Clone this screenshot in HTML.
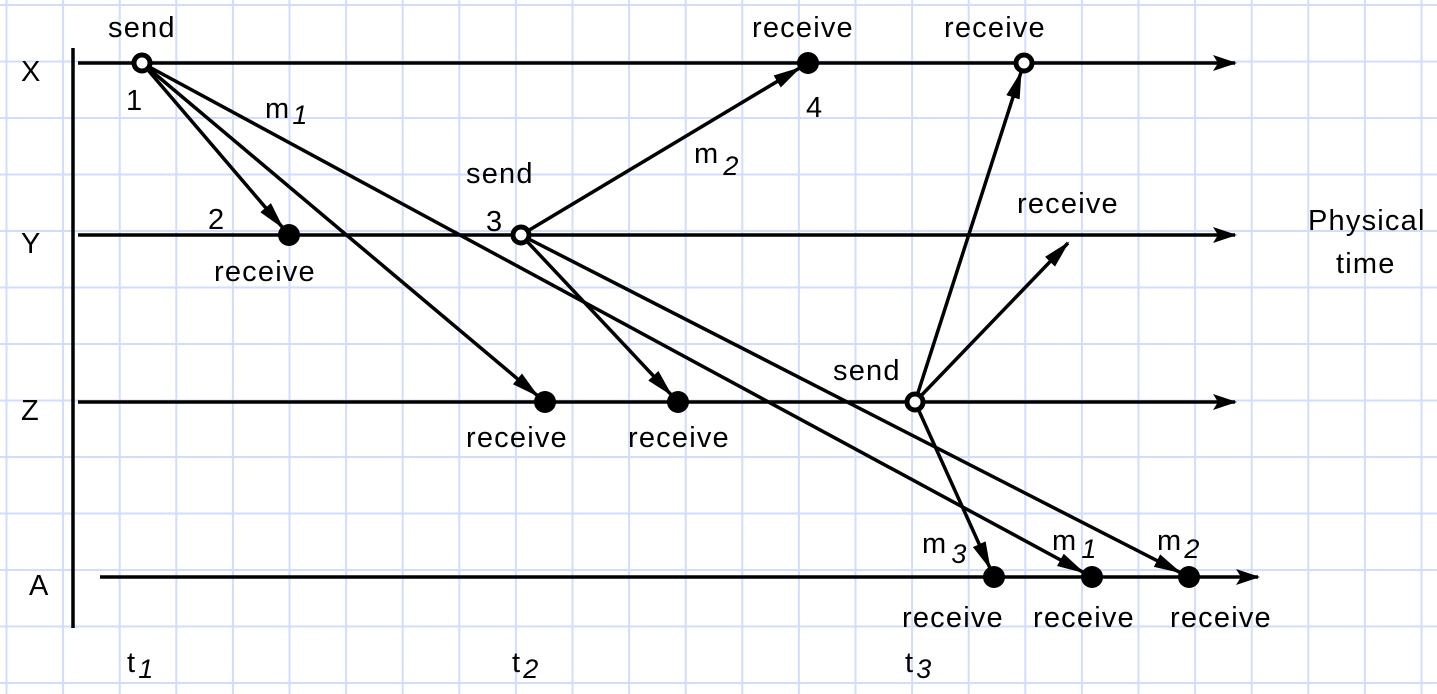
<!DOCTYPE html>
<html><head><meta charset="utf-8"><style>
html,body{margin:0;padding:0;background:#fff;}
svg{display:block;}
text{font-family:"Liberation Sans",sans-serif;font-size:29px;letter-spacing:1.2px;fill:#000;}
.sub{font-style:italic;font-size:27px;}
</style></head><body>
<svg id="chart" width="1437" height="694" viewBox="0 0 1437 694" xmlns="http://www.w3.org/2000/svg">
<defs>
<marker id="ah2" markerWidth="28" markerHeight="14" refX="26" refY="7" orient="auto" markerUnits="userSpaceOnUse" viewBox="0 0 28 14"><path d="M0,0 L28,7 L0,14 z" fill="#000"/></marker>
<marker id="ah3" markerWidth="24" markerHeight="16" refX="22" refY="8" orient="auto" markerUnits="userSpaceOnUse" viewBox="0 0 24 16"><path d="M0,0 L24,8 L0,16 L5,8 z" fill="#000"/></marker></defs>
<g id="grid"></g>
<g id="diagram"></g>
</svg>
<script>
const processes=["X","Y","Z","A"];
const processY=[63,235,402,577];
const timeLabels=["1","2","3"];
const timeX=[140,525,918];
const eventProc=[0,0,0,1,1,2,2,2,3,3,3];
const eventX=[142,808,1024,289,521,545,678,915,994,1092,1189];
const eventOpen=[1,0,1,0,1,0,0,1,0,0,0];
const msgFrom=[0,0,0,4,4,4,7,7,7];
const msgTo=[3,5,9,1,6,10,2,-1,8];
const NS="http://www.w3.org/2000/svg";
function el(t,a,p){const e=document.createElementNS(NS,t);for(const k in a)e.setAttribute(k,a[k]);(p||document.getElementById('diagram')).appendChild(e);return e;}
const grid=document.getElementById('grid');
for(let x=6.5;x<1437;x+=56.6){const l=el('line',{x1:x,y1:0,x2:x,y2:694,stroke:'#d2dcfb','stroke-width':2},grid);

}
for(let y=5;y<694;y+=56.5){const l=el('line',{x1:0,y1:y,x2:1437,y2:y,stroke:'#d2dcfb','stroke-width':2},grid);

}
const ax=el('line',{x1:73,y1:48,x2:73,y2:628,stroke:'#000','stroke-width':3.5});


processes.forEach((p,i)=>{const y=processY[i];const x1=i==3?100:78,x2=i==3?1258:1235;
const l=el('line',{x1:x1,y1:y,x2:x2,y2:y,stroke:'#000','stroke-width':3.5,'marker-end':'url(#ah3)'});


const t=el('text',{x:i==3?29:21,y:y+18});t.textContent=p;

});
function pos(k){return [eventX[k],processY[eventProc[k]]];}
msgFrom.forEach((f,i)=>{const [x1,y1]=pos(f);let x2,y2;if(msgTo[i]<0){x2=1068;y2=243;}else{[x2,y2]=pos(msgTo[i]);}
const dx=x2-x1,dy=y2-y1,L=Math.hypot(dx,dy),sh=msgTo[i]<0?0:10;
const l=el('line',{x1:x1,y1:y1,x2:x2-dx/L*sh,y2:y2-dy/L*sh,stroke:'#000','stroke-width':3.5,'marker-end':'url(#ah2)'});

});
eventX.forEach((x,k)=>{const [cx,cy]=pos(k);
const c=el('circle',{cx:cx,cy:cy,r:eventOpen[k]?8:11,fill:eventOpen[k]?'#fff':'#000',stroke:'#000','stroke-width':eventOpen[k]?5:0});

});
const labels=[["send",108,37],["receive",752,37],["receive",944,37],["send",466,183],["receive",1017,213],["receive",214,281],["send",833,380],["receive",466,447],["receive",628,447],["receive",902,627],["receive",1033,627],["receive",1170,627],["1",126,110],["4",806,117],["2",208,229],["3",486,231]];
labels.forEach(([s,x,y])=>{const t=el('text',{x:x,y:y});t.textContent=s;

});
const pt=el('text',{x:1308,y:230});pt.textContent="Physical";


const pt2=el('text',{x:1336,y:273});pt2.textContent="time";


function subLabel(b,s,x,y,name,dx,dy){const t=el('text',{x:x,y:y});t.textContent=b;const ts=el('tspan',{'class':'sub',dx:dx||2,dy:dy||8},t);ts.textContent=s;

}
subLabel("m","1",265,118,'message-label-m1',2,6);
subLabel("m","2",694,163,'message-label-m2',4,12);
subLabel("m","3",922,553,'message-label-m3',4,10);
subLabel("m","1",1052,550,'message-label-m1',4,8);
subLabel("m","2",1157,550,'message-label-m2',2,8);
timeLabels.forEach((s,i)=>subLabel("t",s,timeX[i]-13,672,'time-label-t'+s,2,6));
</script>
</body></html>
